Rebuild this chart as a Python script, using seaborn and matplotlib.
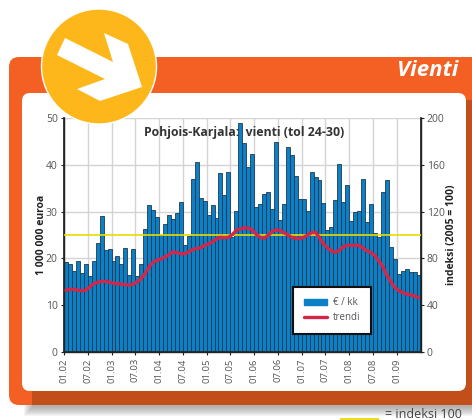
import matplotlib
matplotlib.use("Agg")
import matplotlib.pyplot as plt
from matplotlib.patches import Circle, FancyBboxPatch, Polygon, Rectangle
import numpy as np
import pandas as pd
import seaborn as sns

# monthly export, million euro (01.02 - 06.09)
vienti = [19.2, 18.9, 17.3, 19.5, 16.9, 18.7, 16.3, 19.4, 23.3, 29.1,
          21.9, 22.1, 19.5, 20.5, 18.7, 22.3, 16.5, 22.1, 16.3, 18.9,
          26.3, 31.4, 30.3, 28.9, 24.9, 27.4, 29.2, 28.4, 29.6, 32.0,
          22.8, 24.8, 36.9, 40.5, 32.9, 32.2, 29.2, 31.5, 28.6, 38.3,
          33.6, 38.5, 24.6, 30.2, 49.0, 44.7, 39.5, 42.4, 31.0, 31.7,
          33.7, 34.2, 30.5, 44.9, 28.2, 31.7, 43.7, 42.1, 37.7, 32.6,
          32.7, 30.1, 38.5, 37.3, 36.7, 31.8, 26.1, 26.8, 32.5, 40.1,
          32.0, 35.6, 28.0, 29.9, 30.1, 37.0, 27.7, 31.7, 25.4, 24.5,
          34.2, 36.7, 22.5, 19.9, 16.6, 17.4, 17.8, 17.0, 17.1, 16.5]

# trend on the index scale
trendi = [52.9, 53.6, 53.6, 52.8, 52.4, 52.8, 55.6, 58.4, 59.6, 60.4,
          60.4, 59.6, 58.8, 58.4, 58.0, 57.6, 57.2, 58.0, 60.0, 62.8,
          67.2, 72.8, 76.8, 78.4, 79.6, 81.2, 83.2, 85.6, 84.8, 84.0,
          84.0, 85.6, 87.6, 88.4, 89.2, 91.2, 92.4, 94.0, 96.8, 98.0,
          97.6, 98.0, 100.4, 104.0, 105.2, 106.0, 106.0, 104.4, 100.8, 98.0,
          97.2, 99.6, 102.8, 104.4, 104.0, 102.0, 100.0, 98.0, 97.2, 96.8,
          98.0, 100.0, 102.0, 102.4, 97.6, 92.4, 88.8, 86.4, 85.2, 86.8,
          90.0, 91.2, 91.2, 91.2, 91.2, 88.8, 86.4, 84.8, 82.4, 77.6,
          72.8, 65.6, 60.0, 55.2, 52.4, 50.8, 49.6, 48.8, 48.0, 46.4]

tick_labels = ["01.02", "07.02", "01.03", "07.03", "01.04", "07.04", "01.05", "07.05",
               "01.06", "07.06", "01.07", "07.07", "01.08", "07.08", "01.09"]

left_ticks = [0, 10, 20, 30, 40, 50]
right_ticks = [0, 40, 80, 120, 160, 200]

BLUE = "#0a80c8"
RED = "#d3264b"
YELLOW = "#e6dc00"
ORANGE = "#f46023"
DARK_ORANGE = "#c24f1a"
GREY = "#555555"

W, H = 472, 420

sns.set_theme(style="white")
plt.rcParams["font.family"] = ["Open Sans", "DejaVu Sans"]

df = pd.DataFrame({"kk": range(len(vienti)), "vienti": vienti, "trendi": trendi})

fig = plt.figure(figsize=(W / 100, H / 100), dpi=100, facecolor="white")

# background panel, in pixel coordinates
bg = fig.add_axes([0, 0, 1, 1], zorder=0)
bg.set_xlim(0, W)
bg.set_ylim(H, 0)
bg.axis("off")
for i in range(10):
    bg.add_patch(Rectangle((24 + i, 405), W, 11 - i, color="#707070", alpha=0.07, lw=0))
bg.add_patch(FancyBboxPatch((19, 67), W, 328, boxstyle="round,pad=10,rounding_size=10",
                            fc=ORANGE, ec="none"))
bg.add_patch(Rectangle((32, 385), W, 20, color=DARK_ORANGE, lw=0))
bg.add_patch(Rectangle((460, 100), W, 300, color=DARK_ORANGE, lw=0))
bg.add_patch(FancyBboxPatch((30, 101), 428, 282, boxstyle="round,pad=8,rounding_size=8",
                            fc="white", ec="none"))
bg.text(458, 71, "Vienti", color="white", fontsize=16, fontstyle="italic", fontweight="bold",
        ha="right", va="center")
bg.add_patch(Rectangle((340, 418), 39, 3, color="#f0dd20", lw=0))
bg.text(462, 420.5, "= indeksi 100", color="#444444", fontsize=9, ha="right", va="bottom")

# chart
ax = fig.add_axes([64 / W, 1 - 352 / H, 356.5 / W, 234 / H], zorder=1)
ax.patch.set_alpha(0)
sns.barplot(data=df, x="kk", y="vienti", color=BLUE, width=1, saturation=1,
            edgecolor="#23384a", linewidth=0.6, ax=ax, zorder=2)
ax.set_xlim(-0.5, len(vienti) - 0.5)
ax.set_ylim(0, 50)
ax.set_xticks(np.arange(len(tick_labels)) * 6 - 0.5)
ax.set_xticklabels(tick_labels, rotation=90, fontsize=6.8, color=GREY)
ax.set_yticks(left_ticks)
ax.set_yticklabels(left_ticks, fontsize=7.5, color=GREY)
ax.tick_params(axis="both", length=2.5, width=0.8, color="#222222", pad=2, bottom=True, left=True)
ax.grid(True, color="#d4d4d4", linewidth=1)
ax.set_axisbelow(True)
ax.set_xlabel("")
ax.set_ylabel("1 000 000 euroa", fontsize=7.5, fontweight="bold", color="#222222", labelpad=-1)
for s in ax.spines.values():
    s.set_color("#222222")
    s.set_linewidth(1)
ax.spines["top"].set_visible(False)

ax2 = ax.twinx()
ax2.set_zorder(3)
sns.lineplot(data=df, x="kk", y="trendi", color=RED, linewidth=2.4, ax=ax2, zorder=4)
ax2.axhline(100, color=YELLOW, linewidth=1.2, zorder=3)
ax2.set_ylim(0, 200)
ax2.set_yticks(right_ticks)
ax2.set_yticklabels(right_ticks, fontsize=7.5, color=GREY)
ax2.tick_params(axis="y", length=2.5, width=0.8, color="#222222", pad=2, right=True)
ax2.set_ylabel("indeksi (2005 = 100)", fontsize=7.5, fontweight="bold", color="#222222", labelpad=1)
ax2.grid(False)
ax2.spines["top"].set_visible(False)
ax2.spines["right"].set_color("#222222")

ax2.text(0.506, 0.94, "Pohjois-Karjala:  vienti (tol 24-30)", transform=ax2.transAxes,
         fontsize=8.8, fontweight="bold", color="#333333", ha="center", va="center", zorder=6)

handles = [Rectangle((0, 0), 1, 1, color=BLUE),
           plt.Line2D([], [], color=RED, linewidth=2.4)]
leg = ax2.legend(handles, ["€ / kk", "trendi"], loc="lower left",
                 bbox_to_anchor=((293 - 64) / 356.5, (352 - 334) / 234),
                 borderaxespad=0, fontsize=7, frameon=True, fancybox=False, framealpha=1,
                 edgecolor="#111111", labelcolor=GREY, borderpad=1.1, handlelength=2.4,
                 handletextpad=0.6, labelspacing=0.4)
leg.get_frame().set_linewidth(1.5)
leg.set_zorder(7)

# badge on top of everything
top = fig.add_axes([0, 0, 1, 1], zorder=5)
top.set_xlim(0, W)
top.set_ylim(H, 0)
top.axis("off")
top.add_patch(Circle((99, 66.5), 57.5, fc="#fdb71a", ec="white", lw=1))
top.add_patch(Polygon([(65, 38), (57, 55), (105, 79), (77, 89), (100, 101),
                       (142, 87), (128, 44), (104, 33), (113, 62)], fc="white", ec="none"))

fig.savefig("out.png", dpi=100)
